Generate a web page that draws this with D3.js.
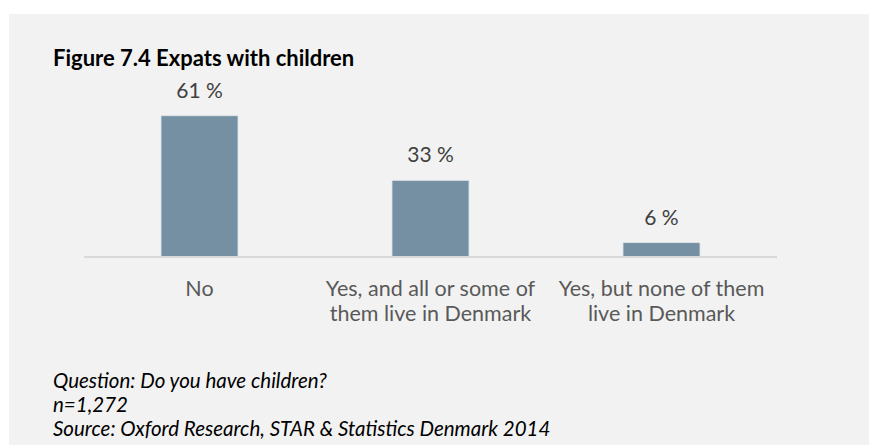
<!DOCTYPE html>
<html><head><meta charset="utf-8">
<script src="https://cdn.jsdelivr.net/npm/d3@7"></script>
<style>body{margin:0;background:#fff}svg{display:block}</style>
</head><body>
<script>
const categories = [["No"], ["Yes, and all or some of", "them live in Denmark"], ["Yes, but none of them", "live in Denmark"]];
const values = [61, 33, 6];
const valueLabels = ["61 %", "33 %", "6 %"];
const title = "Figure 7.4 Expats with children";
const notes = ["Question: Do you have children?", "n=1,272", "Source: Oxford Research, STAR & Statistics Denmark 2014"];

const W = 869, H = 445;
const FONT = "Lato, 'Open Sans', sans-serif";
const svg = d3.select("body").append("svg").attr("width", W).attr("height", H);
svg.append("rect").attr("x", 9).attr("y", 14).attr("width", W - 9).attr("height", H - 14).attr("fill", "#f2f2f2");

const x = d3.scaleBand().domain(d3.range(categories.length)).range([84, 777]).paddingInner(2/3).paddingOuter(1/3);
const y = d3.scaleLinear().domain([0, 70]).range([256.5, 95]);

svg.append("text").attr("x", 53).attr("y", 66).text(title)
  .attr("font-family", FONT).attr("font-weight", "bold").attr("font-size", 22).attr("fill", "#000");

svg.selectAll("rect.bar").data(values).join("rect").attr("class", "bar")
  .attr("x", (d, i) => x(i)).attr("width", x.bandwidth())
  .attr("y", d => y(d)).attr("height", d => y(0) - y(d))
  .attr("fill", "#7490a2").attr("stroke", "#dfe5ea").attr("stroke-width", 0.8);

svg.append("line").attr("x1", 84).attr("x2", 777).attr("y1", y(0) + 0.5).attr("y2", y(0) + 0.5)
  .attr("stroke", "#d9d9d9").attr("stroke-width", 2);

svg.selectAll("text.val").data(values).join("text").attr("class", "val")
  .attr("x", (d, i) => x(i) + x.bandwidth() / 2).attr("y", d => y(d) - 18)
  .attr("text-anchor", "middle").attr("font-family", FONT).attr("font-size", 21).attr("fill", "#404040")
  .text((d, i) => valueLabels[i]);

const cat = svg.selectAll("text.cat").data(categories).join("text").attr("class", "cat")
  .attr("text-anchor", "middle").attr("font-family", FONT).attr("font-size", 21.5).attr("fill", "#595959");
cat.selectAll("tspan").data((d, i) => d.map(s => ({s, i}))).join("tspan")
  .attr("x", d => x(d.i) + x.bandwidth() / 2).attr("y", (d, j) => 296 + j * 25).text(d => d.s);

svg.selectAll("text.note").data(notes).join("text").attr("class", "note")
  .attr("x", 53).attr("y", (d, i) => 388 + i * 24).attr("font-family", FONT).attr("font-style", "italic")
  .attr("font-size", 20.5).attr("fill", "#000").text(d => d);
</script>
</body></html>
